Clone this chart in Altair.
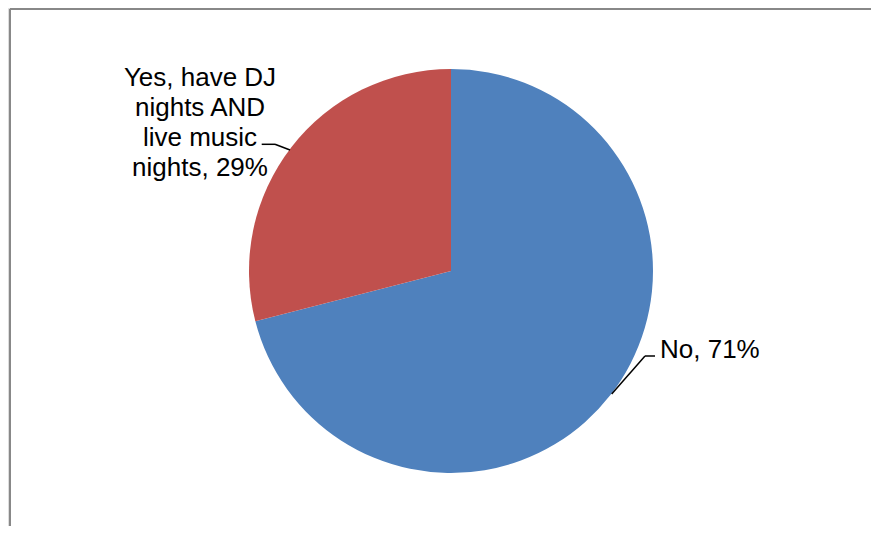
import altair as alt
import pandas as pd

categories = ["No", "Yes, have DJ nights AND live music nights"]
values = [71, 29]
label_texts = ["No, 71%", "Yes, have DJ\nnights AND\nlive music\nnights, 29%"]
colors = ["#4F81BD", "#C0504D"]

df = pd.DataFrame({"category": categories, "value": values, "order": [0, 1]})

CX, CY, R = 443, 263, 202

pie = alt.Chart(df).mark_arc(outerRadius=R).encode(
    theta=alt.Theta("value:Q", stack=True),
    order=alt.Order("order:Q"),
    color=alt.Color("category:N", scale=alt.Scale(domain=categories, range=colors), legend=None),
    x=alt.value(CX),
    y=alt.value(CY),
)

lab_no = alt.Chart(pd.DataFrame({"t": [label_texts[0]]})).mark_text(
    font="Liberation Sans", fontSize=26, align="left", baseline="alphabetic", color="#000000"
).encode(text="t:N", x=alt.value(652), y=alt.value(350))

lab_yes = alt.Chart(pd.DataFrame({"t": [label_texts[1]]})).mark_text(
    font="Liberation Sans", fontSize=26, align="center", baseline="alphabetic",
    lineBreak="\n", lineHeight=30, color="#000000"
).encode(text="t:N", x=alt.value(192), y=alt.value(78))

def seg(x1, y1, x2, y2, color="#000000", w=1.5):
    return alt.Chart(pd.DataFrame({"a": [0]})).mark_rule(color=color, strokeWidth=w).encode(
        x=alt.value(x1), x2=alt.value(x2), y=alt.value(y1), y2=alt.value(y2)
    )

leaders = [
    seg(603.7, 386, 637, 348),
    seg(637, 348, 647, 348),
    seg(253.7, 136.3, 267, 136.3),
    seg(267, 136.3, 282, 142),
]

border = [
    seg(2, 1, 2, 540, color="#888888", w=2),
    seg(2, 1, 880, 1, color="#888888", w=2),
]

chart = alt.layer(pie, lab_no, lab_yes, *leaders, *border).properties(
    width=863, height=518, padding=0, autosize=alt.AutoSizeParams(type="none")
).configure_view(stroke=None).configure(background="#ffffff")

chart.save("out.html", embed_options={"renderer": "svg", "actions": False})
